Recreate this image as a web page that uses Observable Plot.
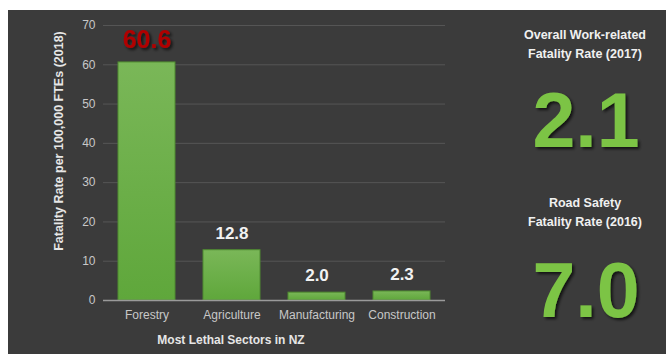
<!DOCTYPE html>
<html><head><meta charset="utf-8">
<script src="https://cdn.jsdelivr.net/npm/d3@7"></script>
<script src="https://cdn.jsdelivr.net/npm/@observablehq/plot@0.6"></script>
<style>
html,body{margin:0;padding:0;background:#fff;}
#c{position:absolute;left:8px;top:10px;width:658px;height:344px;background:#3b3b3b;}
svg{display:block;}
</style></head><body><div id="c"></div>
<script>
const sectors = ["Forestry","Agriculture","Manufacturing","Construction"];
const rates = [60.6, 12.8, 2.0, 2.3];
const yTicks = [0,10,20,30,40,50,60,70];
const panelTitles = [["Overall Work-related","Fatality Rate (2017)"],["Road Safety","Fatality Rate (2016)"]];
const panelValues = ["2.1","7.0"];
const xLabel = "Most Lethal Sectors in NZ";
const yLabel = "Fatality Rate per 100,000 FTEs (2018)";

const data = sectors.map((s,i)=>({sector:s, rate:rates[i], label:rates[i].toFixed(1)}));
const font = "Liberation Sans, Arial, sans-serif";

const plot = Plot.plot({
  width:658, height:344,
  marginLeft:95, marginRight:221, marginTop:15, marginBottom:54,
  style:{background:"transparent", fontFamily:font, color:"#c8c8c8"},
  x:{domain:sectors, paddingInner:0.33, paddingOuter:0.165, label:null},
  y:{domain:[0,70], ticks:yTicks, label:null},
  marks:[
    Plot.gridY(yTicks.filter(d=>d>0), {stroke:"#555", strokeOpacity:1, strokeWidth:1}),
    Plot.barY(data, {x:"sector", y:"rate", fill:"url(#barGrad)", stroke:"#4f8a30", strokeWidth:1}),
    Plot.ruleY([0], {stroke:"#9a9a9a", strokeWidth:1.5}),
    Plot.axisY({ticks:yTicks, tickSize:0, tickPadding:8, fontSize:12, fill:"#c8c8c8", label:null}),
    Plot.axisX({tickSize:0, tickPadding:10, fontSize:12, fill:"#c8c8c8", label:null}),
    Plot.text(data.filter(d=>d.sector!=="Forestry"), {x:"sector", y:"rate", text:"label", dy:-17, fill:"#f2f2f2", fontSize:17, fontWeight:"bold"}),
    Plot.text(data.filter(d=>d.sector==="Forestry"), {x:"sector", y:"rate", text:"label", dy:-22, fill:"#b00000", fontSize:25, fontWeight:"bold"}),
  ]
});
document.getElementById("c").appendChild(plot);

const svg = d3.select(plot);
const defs = svg.insert("defs",":first-child");
const g = defs.append("linearGradient").attr("id","barGrad").attr("x1",0).attr("y1",0).attr("x2",0).attr("y2",1);
g.append("stop").attr("offset","0%").attr("stop-color","#7ab758");
g.append("stop").attr("offset","100%").attr("stop-color","#5fa73b");
const f = defs.append("filter").attr("id","sh").attr("x","-20%").attr("y","-20%").attr("width","150%").attr("height","150%");
f.append("feDropShadow").attr("dx",2).attr("dy",2).attr("stdDeviation",1.5).attr("flood-color","#000").attr("flood-opacity",0.7);

svg.selectAll("text").filter(function(){return this.textContent==="60.6";}).attr("filter","url(#sh)");

svg.append("text").attr("x",223).attr("y",334).attr("text-anchor","middle")
  .attr("font-family",font).attr("font-size",12).attr("font-weight","bold").attr("fill","#e6e6e6").text(xLabel);
svg.append("text").attr("transform","translate(55,131) rotate(-90)").attr("text-anchor","middle")
  .attr("font-family",font).attr("font-size",12.5).attr("font-weight","bold").attr("fill","#e6e6e6").text(yLabel);

const cx = 577;
const titleY = [[29,48],[197,216]];
const valueY = [137,307];
panelTitles.forEach((lines,i)=>{
  lines.forEach((t,j)=>{
    svg.append("text").attr("x",cx).attr("y",titleY[i][j]).attr("text-anchor","middle")
      .attr("font-family",font).attr("font-size",12.5).attr("font-weight","bold").attr("fill","#f0f0f0").text(t);
  });
  svg.append("text").attr("x",cx+1).attr("y",valueY[i]).attr("text-anchor","middle")
    .attr("font-family",font).attr("font-size",77).attr("font-weight","bold").attr("fill","#7cc444")
    .attr("filter","url(#sh)").text(panelValues[i]);
});
</script></body></html>
